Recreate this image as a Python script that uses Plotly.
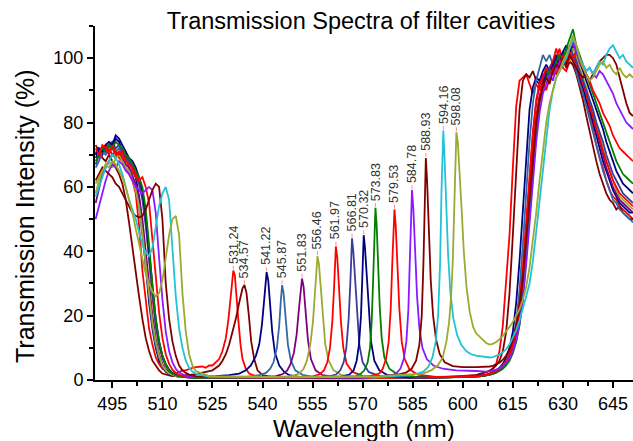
import plotly.graph_objects as go

# ---------------- data ----------------
LEFT_WL = [490 + i for i in range(31)]     # 490 ... 520 nm sample grid
RIGHT_WL = [605 + i for i in range(47)]    # 605 ... 651 nm sample grid

PEAK_LABELS = ["531.24", "534.57", "541.22", "545.87", "551.83", "556.46", "561.97",
               "566.81", "570.32", "573.83", "579.53", "584.78", "588.93", "594.16", "598.08"]
PEAK_WL = [531.24, 534.57, 541.22, 545.87, 551.83, 556.46, 561.97,
           566.81, 570.32, 573.83, 579.53, 584.78, 588.93, 594.16, 598.08]
PEAK_T = [34, 29.5, 33.5, 29.5, 31.5, 38.5, 41.5, 44, 45, 53.5, 53, 59, 69, 77.5, 77]

COLORS = ["#FF0000", "#800000", "#000080", "#3467A8", "#800080", "#9BAA30", "#FF0000",
          "#3C3C9C", "#000080", "#008000", "#FF0000", "#8C1AFF", "#800000", "#22C3D6", "#9BAA30"]

# --- 531.24 ---
s1_left = [70, 72, 71, 73, 72, 70, 71, 69, 68, 66,
           64, 62, 58, 48, 34, 24, 16, 11, 7, 5,
           3.5, 3, 2.5, 2.2, 2, 2.5, 3, 3, 3.5, 3.8, 4]
s1_mid_x = [521, 522, 523, 524, 525, 526, 527, 528, 529, 529.8, 530.4, 530.9, 531.24, 531.7,
            532.2, 532.8, 533.4, 534, 535, 536, 538, 541, 546, 555, 565, 575, 585, 595, 604]
s1_mid_y = [4, 4.2, 3.8, 4.5, 4.5, 5.5, 6.5, 9, 13, 19, 26, 32, 34, 32.5,
            27, 18, 11, 6.5, 3.5, 2, 1.2, 0.8, 0.6, 0.5, 0.5, 0.6, 0.8, 1.0, 1.5]
s1_right = [1.8, 2, 2.4, 2.9, 3.6, 5, 9, 17, 30, 45,
            66, 85, 93, 94, 95, 92, 89, 92, 90, 93,
            95, 94, 97, 100, 103, 97, 96, 99, 98, 96,
            93, 89, 86, 82, 78, 73, 69, 66, 62, 59,
            57, 56, 54, 53, 52, 51, 50]

# --- 534.57 ---
s2_left = [73, 71, 69, 68, 70, 68, 66, 64, 61, 56,
           49, 41, 33, 26, 19, 13, 9, 6, 4.5, 3,
           2, 1.6, 1.4, 1.2, 1.2, 1.3, 1.3, 1.5, 1.5, 1.7, 1.8]
s2_mid_x = [521, 523, 525, 527, 528, 529, 530, 531, 532, 533, 534, 534.57, 535.2,
            535.9, 536.6, 537.5, 538.5, 540, 543, 548, 558, 570, 585, 598, 604]
s2_mid_y = [2, 2.4, 3, 4.5, 6, 8, 11, 15, 19, 24, 28.5, 29.5, 27,
            20, 12, 6.5, 3, 1.5, 0.9, 0.6, 0.5, 0.5, 0.7, 1.0, 1.5]
s2_right = [1.8, 2, 2.3, 2.8, 3.5, 4.5, 6, 9, 15, 27,
            45, 66, 84, 93, 95, 94, 96, 93, 92, 94,
            96, 95, 97, 95, 98, 100, 97, 99, 98, 95,
            91, 87, 82, 77, 73, 68, 64, 61, 58, 56,
            55, 53, 54, 52, 51, 50, 50]

# --- 541.22 ---
s3_left = [69, 71, 70, 72, 73, 72, 75, 74, 71, 70,
           68, 66, 63, 57, 47, 35, 24, 16, 10, 6,
           4, 2.5, 1.8, 1.4, 1.2, 1, 1, 0.9, 0.9, 0.9, 1]
s3_mid_x = [522, 526, 530, 533, 535, 536.5, 538, 539, 539.8, 540.5, 541, 541.22, 541.7,
            542.3, 542.9, 543.7, 545, 546.5, 548, 551, 558, 570, 585, 598, 604]
s3_mid_y = [1, 1.2, 1.5, 2, 3, 4.5, 7.5, 11, 17, 25, 31, 33.5, 31,
            23, 15, 8.5, 4.5, 2.5, 1.5, 1, 0.7, 0.6, 0.7, 0.9, 1.2]
s3_right = [1.3, 1.5, 1.7, 2, 2.5, 3, 3.8, 5, 7, 10,
            15, 24, 37, 53, 70, 84, 91, 94, 93, 96,
            98, 96, 99, 101, 98, 100, 102, 100, 101, 97,
            94, 91, 87, 84, 80, 76, 72, 68, 65, 62,
            59, 57, 55, 54, 53, 52, 52]

# --- 545.87 ---
s4_left = [66, 68, 71, 70, 72, 73, 71, 72, 70, 69,
           66, 64, 60, 54, 45, 35, 25, 17, 11, 7,
           4.5, 3, 2, 1.5, 1.2, 1, 0.9, 0.9, 0.8, 0.8, 0.8]
s4_mid_x = [524, 530, 535, 539, 541, 542.3, 543.3, 544.3, 545, 545.5, 545.87,
            546.3, 546.9, 547.6, 548.5, 549.8, 552, 555, 562, 575, 590, 604]
s4_mid_y = [0.8, 0.9, 1, 1.5, 2.2, 3.5, 5.5, 10, 17, 25, 29.5,
            27, 19, 11, 6, 3, 1.6, 1, 0.7, 0.6, 0.8, 1.1]
s4_right = [1.2, 1.4, 1.6, 1.9, 2.3, 2.8, 3.5, 4.5, 6, 8.5,
            12, 18, 28, 42, 58, 74, 86, 93, 97, 101,
            99, 101, 98, 100, 97, 99, 102, 103, 100, 96,
            92, 89, 85, 81, 77, 73, 69, 65, 62, 59,
            56, 55, 53, 52, 51, 50, 49]

# --- 551.83 ---
s5_left = [55, 60, 64, 66, 68, 70, 69, 71, 69, 67,
           66, 63, 61, 57, 50, 40, 29, 20, 13, 8,
           5, 3.2, 2.2, 1.6, 1.3, 1.1, 1, 0.9, 0.8, 0.8, 0.8]
s5_mid_x = [524, 532, 540, 544, 546, 547.4, 548.4, 549.4, 550.2, 550.9, 551.4,
            551.83, 552.3, 552.9, 553.6, 554.5, 555.9, 558, 562, 570, 585, 604]
s5_mid_y = [0.7, 0.8, 0.9, 1.2, 1.8, 3, 5, 8.5, 14, 22, 28,
            31.5, 29, 21, 12.5, 6.5, 3, 1.5, 0.9, 0.6, 0.7, 1]
s5_right = [1.1, 1.3, 1.5, 1.8, 2.2, 2.7, 3.3, 4.2, 5.5, 7.5,
            10.5, 15, 22, 33, 47, 62, 76, 86, 92, 95,
            94, 97, 99, 97, 100, 102, 99, 101, 104, 100,
            96, 93, 89, 86, 82, 78, 74, 70, 66, 63,
            60, 58, 56, 55, 54, 53, 52]

# --- 556.46 ---
s6_left = [58, 62, 65, 67, 68, 66, 69, 70, 68, 66,
           65, 62, 59, 54, 46, 36, 26, 18, 12, 7.5,
           4.5, 3, 2, 1.5, 1.2, 1, 0.9, 0.8, 0.8, 0.7, 0.7]
s6_mid_x = [524, 535, 545, 549, 551, 552.3, 553.3, 554.3, 555.1, 555.7, 556.2, 556.46,
            556.9, 557.5, 558.1, 558.8, 559.8, 561.3, 563.8, 568, 578, 592, 604]
s6_mid_y = [0.6, 0.7, 0.9, 1.3, 2, 3.5, 6, 11, 18, 27, 35, 38.5,
            36, 28, 18, 11, 6, 3, 1.5, 0.9, 0.6, 0.7, 1]
s6_right = [1.1, 1.2, 1.4, 1.7, 2, 2.5, 3.1, 3.9, 5, 6.8,
            9.5, 13.5, 20, 30, 43, 57, 71, 82, 88, 91,
            94, 93, 96, 98, 97, 100, 102, 99, 103, 101,
            97, 94, 91, 87, 84, 80, 76, 72, 68, 65,
            62, 59, 57, 56, 55, 54, 53]

# --- 561.97 ---
s7_left = [71, 69, 72, 73, 71, 72, 70, 71, 69, 70,
           68, 65, 63, 61, 58, 50, 38, 26, 17, 11,
           7, 4.5, 3, 2, 1.5, 1.2, 1, 0.9, 0.8, 0.8, 0.7]
s7_mid_x = [524, 540, 550, 555, 557, 558.4, 559.4, 560.2, 560.9, 561.4, 561.8,
            561.97, 562.4, 562.9, 563.5, 564.2, 565.2, 567, 570, 576, 590, 604]
s7_mid_y = [0.6, 0.6, 0.8, 1.1, 1.7, 3, 5.5, 10, 18, 28, 38,
            41.5, 38, 29, 18, 10, 5, 2.5, 1.2, 0.7, 0.7, 1.1]
s7_right = [1.2, 1.3, 1.5, 1.8, 2.2, 2.7, 3.4, 4.4, 5.8, 8,
            11, 16, 24, 35, 49, 64, 77, 87, 92, 94,
            97, 95, 99, 103, 99, 101, 98, 100, 101, 98,
            95, 92, 89, 85, 82, 78, 75, 71, 68, 65,
            62, 60, 58, 57, 56, 55, 54]

# --- 566.81 ---
s8_left = [67, 70, 72, 71, 73, 74, 72, 73, 71, 69,
           68, 66, 64, 61, 56, 48, 37, 26, 17, 11,
           7, 4.5, 3, 2, 1.5, 1.2, 1, 0.9, 0.8, 0.8, 0.7]
s8_mid_x = [524, 540, 555, 560, 562, 563.3, 564.3, 565.1, 565.8, 566.3, 566.65,
            566.81, 567.2, 567.7, 568.3, 569, 570, 571.8, 575, 582, 595, 604]
s8_mid_y = [0.6, 0.6, 0.8, 1.1, 1.7, 3, 5.5, 10, 19, 30, 40,
            44, 40, 31, 20, 11, 5.5, 2.5, 1.2, 0.7, 0.8, 1.1]
s8_right = [1.2, 1.3, 1.5, 1.8, 2.1, 2.6, 3.2, 4, 5.2, 7,
            9.5, 13.5, 20, 29, 41, 55, 69, 80, 88, 92,
            95, 97, 96, 99, 101, 98, 102, 104, 101, 99,
            96, 93, 90, 87, 84, 80, 77, 74, 70, 67,
            64, 62, 60, 58, 57, 56, 55]

# --- 570.32 ---
s9_left = [70, 72, 71, 73, 74, 73, 76, 75, 73, 71,
           69, 68, 66, 63, 59, 51, 40, 28, 19, 12,
           7.5, 5, 3.2, 2.2, 1.6, 1.3, 1.1, 1, 0.9, 0.8, 0.8]
s9_mid_x = [524, 540, 558, 564, 566, 567.3, 568.2, 568.9, 569.5, 569.9, 570.15,
            570.32, 570.7, 571.2, 571.8, 572.5, 573.5, 575, 577.5, 584, 595, 604]
s9_mid_y = [0.7, 0.6, 0.8, 1.1, 1.7, 3, 6, 11, 20, 32, 42,
            45, 41, 32, 21, 12, 6, 3, 1.5, 0.8, 0.8, 1]
s9_right = [1.1, 1.2, 1.4, 1.6, 1.9, 2.3, 2.9, 3.7, 4.8, 6.4,
            8.8, 12.5, 18, 27, 39, 53, 67, 79, 87, 92,
            95, 94, 98, 100, 98, 102, 104, 101, 107, 103,
            99, 96, 93, 90, 87, 84, 81, 78, 74, 71,
            68, 65, 63, 61, 60, 59, 58]

# --- 573.83 ---
s10_left = [68, 70, 72, 71, 73, 72, 74, 73, 72, 70,
            69, 67, 65, 63, 60, 53, 42, 29, 19, 12,
            7.5, 4.8, 3, 2, 1.5, 1.2, 1, 0.9, 0.8, 0.8, 0.7]
s10_mid_x = [524, 545, 562, 568, 569.5, 570.5, 571.5, 572.2, 572.7, 573.1, 573.5,
             573.83, 574.2, 574.6, 575.1, 575.7, 576.5, 578, 580.5, 586, 596, 604]
s10_mid_y = [0.6, 0.6, 0.8, 1.2, 2, 3, 5.5, 10, 18, 30, 44,
             53.5, 48, 36, 23, 13, 7, 3.5, 1.7, 0.9, 0.8, 1]
s10_right = [1.1, 1.2, 1.4, 1.6, 1.9, 2.3, 2.8, 3.5, 4.5, 6,
             8.3, 11.8, 17, 25, 37, 51, 65, 77, 86, 91,
             94, 96, 95, 99, 101, 100, 103, 106, 109, 104,
             101, 98, 95, 92, 89, 86, 83, 80, 77, 74,
             71, 68, 66, 64, 63, 62, 61]

# --- 579.53 ---
s11_left = [72, 70, 73, 72, 70, 73, 71, 70, 71, 68,
            67, 66, 64, 62, 63, 60, 55, 44, 31, 21,
            13, 8, 5, 3.2, 2.2, 1.6, 1.3, 1.1, 1, 0.9, 0.9]
s11_mid_x = [524, 545, 565, 572, 575, 576, 577, 577.8, 578.4, 578.9, 579.3,
             579.53, 579.9, 580.4, 581, 581.7, 582.6, 584, 586.5, 592, 600, 604]
s11_mid_y = [0.8, 0.7, 0.8, 1.1, 2, 3.5, 6.5, 12, 22, 37, 50,
             53, 48, 35, 22, 12, 6.5, 3.3, 1.7, 1, 1, 1.2]
s11_right = [1.3, 1.4, 1.6, 1.9, 2.2, 2.7, 3.3, 4.2, 5.5, 7.5,
             10.5, 15, 22, 32, 45, 59, 72, 82, 88, 92,
             90, 94, 97, 95, 98, 101, 99, 102, 100, 102,
             99, 97, 95, 93, 90, 88, 86, 83, 81, 79,
             76, 74, 72, 71, 70, 69, 68]

# --- 584.78 ---
s12_left = [50, 54, 58, 62, 65, 67, 66, 68, 67, 65,
            64, 62, 60, 59, 58, 59, 60, 59, 52, 38,
            25, 15, 9, 5.5, 3.5, 2.3, 1.7, 1.3, 1.1, 1, 0.9]
s12_mid_x = [524, 545, 570, 578, 580, 581.3, 582.3, 583.1, 583.7, 584.1, 584.5,
             584.78, 585.2, 585.7, 586.3, 587, 587.9, 589.2, 591.2, 594, 598, 604]
s12_mid_y = [0.8, 0.7, 0.8, 1.2, 2, 3.5, 6.5, 12, 22, 36, 52,
             59, 53, 40, 26, 16, 10, 6.5, 4.5, 3.5, 3, 2.8]
s12_right = [2.7, 2.6, 2.6, 2.7, 2.9, 3.2, 3.6, 4.3, 5.3, 6.8,
             9, 12.5, 17.5, 25, 36, 49, 62, 74, 83, 89,
             92, 95, 93, 97, 99, 98, 101, 103, 105, 102,
             99, 98, 96, 97, 95, 94, 96, 95, 93, 91,
             89, 86, 84, 82, 80, 79, 78]

# --- 588.93 ---
s13_left = [62, 64, 66, 65, 64, 63, 61, 60, 58, 56,
            54, 52, 51, 50.5, 51, 53, 56, 59, 61, 60,
            50, 30, 19, 12, 7.5, 4.5, 3, 2.2, 1.7, 1.4, 1.2]
s13_mid_x = [524, 545, 570, 580, 583, 584.7, 586, 587, 587.7, 588.2, 588.6,
             588.93, 589.3, 589.8, 590.4, 591.1, 592, 593.1, 594.6, 597, 600, 604]
s13_mid_y = [1, 0.9, 1, 1.5, 2.3, 3.5, 6, 11, 20, 36, 55,
             69, 62, 46, 31, 20, 12.5, 8, 5.5, 4.3, 4, 4]
s13_right = [4, 4, 4.1, 4.2, 4.4, 4.8, 5.4, 6.3, 7.6, 9.5,
             12.5, 17, 23, 32, 44, 57, 70, 80, 87, 91,
             94, 92, 96, 98, 97, 100, 98, 101, 99, 97,
             95, 94, 95, 93, 95, 97, 99, 100, 101, 101,
             100, 98, 94, 90, 86, 83, 82]

# --- 594.16 ---
s14_left = [57, 60, 63, 66, 68, 70, 69, 67, 64, 60,
            56, 53, 50, 46, 42, 39.5, 38.5, 41, 47, 54,
            58, 60, 56, 40, 26, 16, 10, 6, 3.8, 2.6, 2]
s14_mid_x = [524, 545, 575, 585, 588, 589.6, 590.9, 591.9, 592.6, 593.2, 593.6, 593.9,
             594.16, 594.5, 595, 595.6, 596.3, 597.2, 598.3, 599.5, 601, 602.5, 604]
s14_mid_y = [1, 0.8, 1, 1.5, 2.5, 4, 7, 12, 20, 36, 58, 72,
             77.5, 70, 55, 39, 27, 19, 14, 11, 9, 8, 7.6]
s14_right = [7.4, 7.2, 7.1, 7, 7.1, 7.4, 7.9, 8.6, 9.6, 11,
             13, 15.5, 18.5, 22, 26, 30, 37, 46, 56, 66,
             76, 84, 90, 94, 96, 98, 100, 103, 106, 104,
             100, 98, 96, 97, 95, 97, 99, 98, 101, 103,
             104, 102, 100, 101, 99, 98, 97]

# --- 598.08 ---
s15_left = [61, 63, 65, 67, 66, 68, 67, 65, 63, 60,
            56, 52, 47, 42, 37, 33, 30, 27.5, 26, 27,
            31, 38, 45, 50, 51, 45, 27, 15, 8, 4.5, 2.8]
s15_mid_x = [524, 545, 575, 588, 590.5, 592.5, 594, 595.1, 595.9, 596.5, 597,
             597.4, 597.75, 598.08, 598.5, 599, 599.6, 600.3, 601.1, 602.1, 603.1, 604]
s15_mid_y = [1.2, 1, 1.2, 2, 3, 4.5, 7, 12, 18, 26, 37,
             52, 68, 77, 74, 66, 54, 40, 29, 21, 16.5, 14.5]
s15_right = [13.5, 12.5, 11.5, 11, 11.2, 11.8, 12.6, 13.7, 15, 16.5,
             18, 20, 22, 25, 29, 35, 43, 52, 62, 72,
             80, 86, 90, 94, 96, 99, 101, 104, 107, 104,
             100, 97, 95, 93, 94, 96, 98, 99, 97, 98,
             96, 95, 97, 95, 94, 95, 94]

SERIES = [
    (s1_left, s1_mid_x, s1_mid_y, s1_right),
    (s2_left, s2_mid_x, s2_mid_y, s2_right),
    (s3_left, s3_mid_x, s3_mid_y, s3_right),
    (s4_left, s4_mid_x, s4_mid_y, s4_right),
    (s5_left, s5_mid_x, s5_mid_y, s5_right),
    (s6_left, s6_mid_x, s6_mid_y, s6_right),
    (s7_left, s7_mid_x, s7_mid_y, s7_right),
    (s8_left, s8_mid_x, s8_mid_y, s8_right),
    (s9_left, s9_mid_x, s9_mid_y, s9_right),
    (s10_left, s10_mid_x, s10_mid_y, s10_right),
    (s11_left, s11_mid_x, s11_mid_y, s11_right),
    (s12_left, s12_mid_x, s12_mid_y, s12_right),
    (s13_left, s13_mid_x, s13_mid_y, s13_right),
    (s14_left, s14_mid_x, s14_mid_y, s14_right),
    (s15_left, s15_mid_x, s15_mid_y, s15_right),
]

# ---------------- figure ----------------
FONT = 'Arial, "Liberation Sans", sans-serif'
W, H = 633, 441
ML, MR, MT, MB = 95, 0, 26, 61
PW, PH = W - ML - MR, H - MT - MB

fig = go.Figure()

for (left, mx, my, right), color, name in zip(SERIES, COLORS, PEAK_LABELS):
    xs = list(LEFT_WL[:len(left)]) + list(mx) + list(RIGHT_WL[:len(right)])
    ys = list(left[:len(LEFT_WL)]) + list(my) + list(right[:len(RIGHT_WL)])
    fig.add_trace(go.Scatter(x=xs, y=ys, mode="lines", name=name,
                             line=dict(color=color, width=1.8),
                             showlegend=False, hoverinfo="skip"))

# small label leader ticks above each peak
tx, ty = [], []
for w, t in zip(PEAK_WL, PEAK_T):
    tx += [w, w, None]
    ty += [t + 0.3, t + 1.5, None]
fig.add_trace(go.Scatter(x=tx, y=ty, mode="lines", line=dict(color="#FF9090", width=1),
                         showlegend=False, hoverinfo="skip"))

for w, t, lab in zip(PEAK_WL, PEAK_T, PEAK_LABELS):
    fig.add_annotation(x=w, y=t, text=lab, textangle=-90, showarrow=False,
                       xanchor="center", yanchor="bottom", yshift=5,
                       font=dict(family=FONT, size=12.5, color="#333333"))

# axis titles placed as paper annotations for exact positioning
fig.add_annotation(text="Wavelength (nm)", xref="paper", yref="paper",
                   x=(364 - ML) / PW, y=(MT + PH - 428) / PH,
                   xanchor="center", yanchor="middle", showarrow=False,
                   font=dict(family=FONT, size=24, color="black"))
fig.add_annotation(text="Transmission Intensity (%)", xref="paper", yref="paper",
                   x=(25 - ML) / PW, y=(MT + PH - 216) / PH, textangle=-90,
                   xanchor="center", yanchor="middle", showarrow=False,
                   font=dict(family=FONT, size=25, color="black"))

axis_common = dict(showline=True, linewidth=2, linecolor="black", mirror=False,
                   ticks="outside", ticklen=6, tickwidth=2, tickcolor="black",
                   showgrid=False, zeroline=False, automargin=False,
                   tickfont=dict(family=FONT, size=18, color="black"))

fig.update_layout(
    width=W, height=H,
    margin=dict(l=ML, r=MR, t=MT, b=MB, autoexpand=False),
    paper_bgcolor="white", plot_bgcolor="white",
    font=dict(family=FONT, color="black"),
    title=dict(text="Transmission Spectra of filter cavities",
               x=361 / W, xref="container", xanchor="center",
               y=1 - 21 / H, yref="container", yanchor="middle",
               font=dict(family=FONT, size=23.5, color="black")),
    xaxis=dict(range=[489.8, 651], tick0=495, dtick=15,
               minor=dict(ticks="outside", ticklen=4, tickwidth=2, tickcolor="black",
                          tick0=495, dtick=7.5, showgrid=False),
               **axis_common),
    yaxis=dict(range=[0, 110], tick0=0, dtick=20,
               minor=dict(ticks="outside", ticklen=4, tickwidth=2, tickcolor="black",
                          tick0=0, dtick=10, showgrid=False),
               **axis_common),
)

fig.write_html("out.html",
               config={"displayModeBar": False, "staticPlot": True},
               post_script="document.body.style.margin='0';document.body.style.overflow='hidden';")
